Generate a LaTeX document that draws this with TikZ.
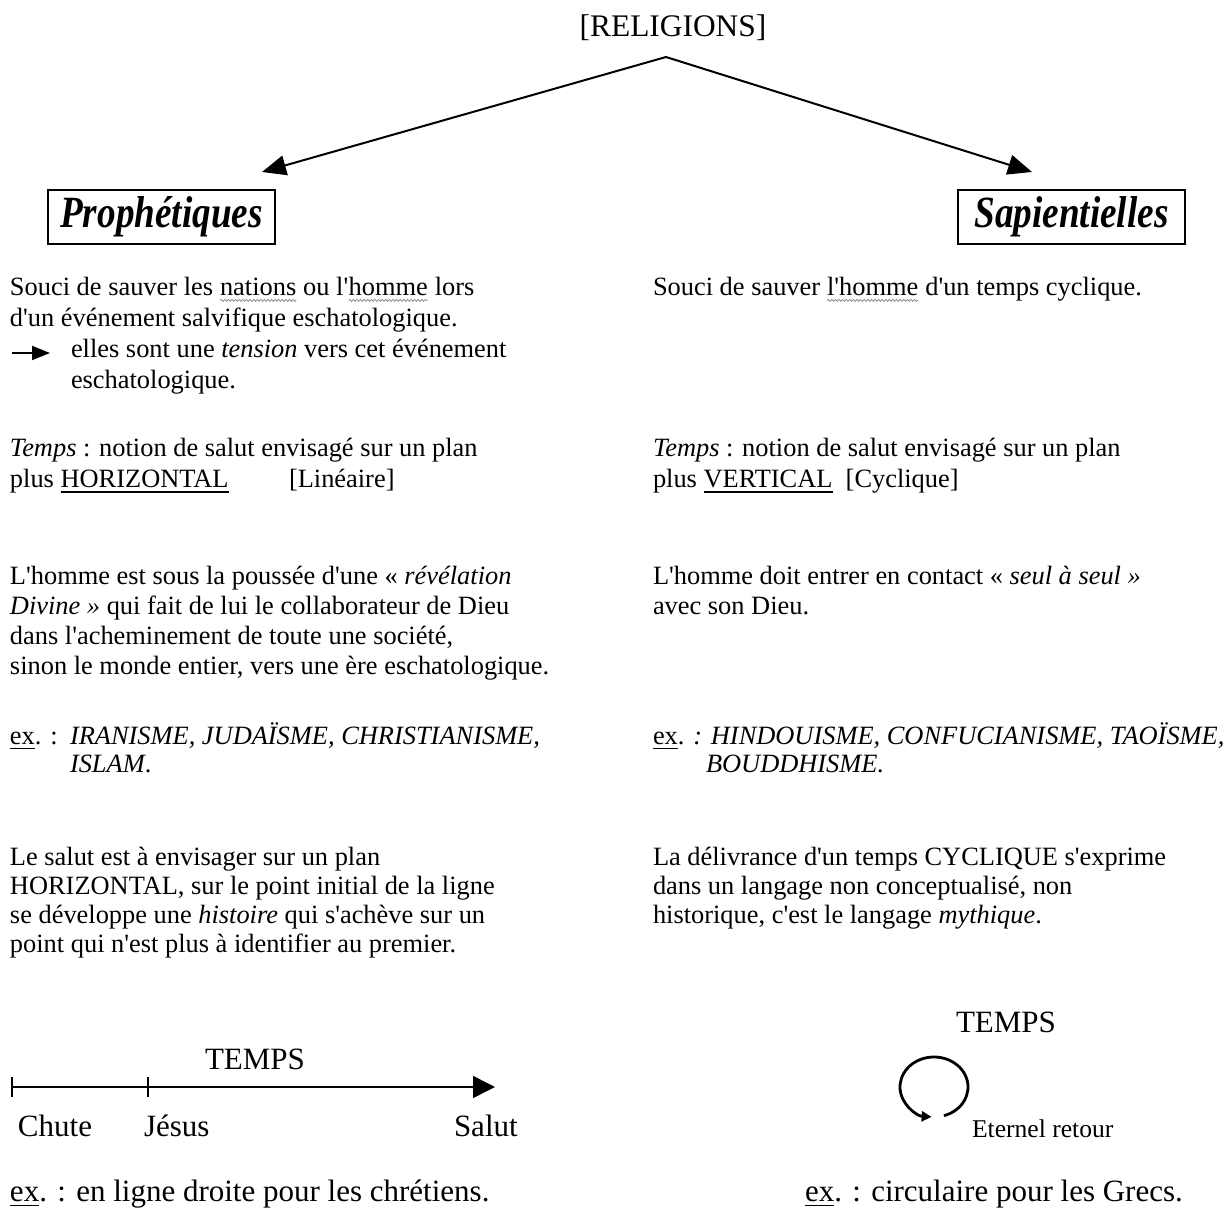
\documentclass[tikz,border=0pt]{standalone}
\usepackage{fontspec}
\setmainfont{Liberation Serif}[Ligatures=TeXOff]
\usetikzlibrary{arrows.meta,decorations.pathmorphing}
\newsavebox\ulbox
\newcommand\solidul[1]{\sbox\ulbox{#1}\rlap{\rule[-2.6pt]{\wd\ulbox}{1.1pt}}\usebox\ulbox}
\newcommand\exul[1]{\sbox\ulbox{#1}\rlap{\rule[-2.3pt]{\wd\ulbox}{0.6pt}}\usebox\ulbox}
\newcommand\wavyul[1]{\tikz[baseline=(wv.base),x=1pt,y=1pt]{\node[inner sep=0pt,outer sep=0pt,anchor=base](wv){#1};\draw[black!50,line width=0.35pt,decorate,decoration={snake,amplitude=0.5pt,segment length=1.8pt}]([yshift=-2.4pt]wv.base west)--([yshift=-2.4pt]wv.base east);}}
\tikzset{
  txt/.style={anchor=mid west,inner sep=0pt,outer sep=0pt,font=\fontsize{13.2}{15}\selectfont},
  big/.style={inner sep=0pt,outer sep=0pt,font=\fontsize{15.5}{17}\selectfont},
  catbox/.style={draw,line width=1pt,minimum width=113.5pt,minimum height=27pt,inner sep=0pt,font=\fontsize{18.6}{20}\bfseries\itshape\selectfont},
  arr/.style={line width=1pt,-{Triangle[length=12pt,width=10pt]}},
}
\begin{document}
\begin{tikzpicture}[x={(0.5pt,0)},y={(0,-0.5pt)}]
\useasboundingbox (0,0) rectangle (1228,1215);
% top
\node[inner sep=0pt,font=\fontsize{15.7}{17}\selectfont] (rel) at (673,28) {[RELIGIONS]};
\coordinate (apex) at (666,57);
\coordinate (lt) at (262,172);
\coordinate (rt) at (1032,172);
\draw[arr] (apex) -- (lt);
\draw[arr] (apex) -- (rt);
\node[catbox] (proph) at (161.5,217) {\scalebox{1}[1.2]{Prophétiques}};
\node[catbox] (sapi) at (1071.5,217) {\scalebox{1}[1.2]{Sapientielles}};
% left column
\node[txt] (l1) at (10,291) {Souci de sauver les \wavyul{nations} ou l'\wavyul{homme} lors};
\node[txt] (l2) at (10,322) {d'un événement salvifique eschatologique.};
\coordinate (a0) at (12,353);
\coordinate (a1) at (50,353);
\draw[line width=1pt,-{Triangle[length=9pt,width=7pt]}] (a0) -- (a1);
\node[txt] (l3) at (71,353) {elles sont une \textit{tension} vers cet événement};
\node[txt] (l4) at (71,384) {eschatologique.};
\node[txt] (t1) at (10,452) {\textit{Temps} : notion de salut envisagé sur un plan};
\node[txt] (t2) at (10,483) {plus \solidul{HORIZONTAL}};
\node[txt] (t2b) at (289,483) {[Linéaire]};
\node[txt] (h1) at (10,580) {L'homme est sous la poussée d'une « \textit{révélation}};
\node[txt] (h2) at (10,610) {\textit{Divine »} qui fait de lui le collaborateur de Dieu};
\node[txt] (h3) at (10,640) {dans l'acheminement de toute une société,};
\node[txt] (h4) at (10,670) {sinon le monde entier, vers une ère eschatologique.};
\node[txt] (e1) at (10,740) {\exul{ex}. :};
\node[txt] (e1b) at (70,740) {\textit{IRANISME, JUDAÏSME, CHRISTIANISME,}};
\node[txt] (e2) at (70,768) {\textit{ISLAM}.};
\node[txt] (s1) at (10,861) {Le salut est à envisager sur un plan};
\node[txt] (s2) at (10,890) {HORIZONTAL, sur le point initial de la ligne};
\node[txt] (s3) at (10,919) {se développe une \textit{histoire} qui s'achève sur un};
\node[txt] (s4) at (10,948) {point qui n'est plus à identifier au premier.};
% timeline
\node[big] (tempsL) at (255,1059) {TEMPS};
\coordinate (t0) at (12,1087);
\coordinate (tj) at (148,1087);
\coordinate (tend) at (495,1087);
\draw[line width=0.8pt,-{Triangle[length=11pt,width=11pt]}] (t0) -- (tend);
\draw[line width=0.8pt] ([yshift=5pt]t0) -- ([yshift=-5pt]t0);
\draw[line width=0.8pt] ([yshift=5pt]tj) -- ([yshift=-5pt]tj);
\node[big,anchor=mid west] (chute) at (18,1132) {Chute};
\node[big,anchor=mid west] (jesus) at (144,1132) {Jésus};
\node[big,anchor=mid west] (salut) at (454,1132) {Salut};
\node[big,anchor=mid west] (exL) at (10,1197) {\exul{ex}. : en ligne droite pour les chrétiens.};
% right column
\node[txt] (r1) at (653,291) {Souci de sauver \wavyul{l'homme} d'un temps cyclique.};
\node[txt] (rt1) at (653,452) {\textit{Temps} : notion de salut envisagé sur un plan};
\node[txt] (rt2) at (653,483) {plus \solidul{VERTICAL}\ \ [Cyclique]};
\node[txt] (rh1) at (653,580) {L'homme doit entrer en contact « \textit{seul à seul »}};
\node[txt] (rh2) at (653,610) {avec son Dieu.};
\node[txt] (re1) at (653,740) {\exul{ex}. \textit{: HINDOUISME, CONFUCIANISME, TAOÏSME,}};
\node[txt] (re2) at (706,768) {\textit{BOUDDHISME.}};
\node[txt] (rs1) at (653,861) {La délivrance d'un temps CYCLIQUE s'exprime};
\node[txt] (rs2) at (653,890) {dans un langage non conceptualisé, non};
\node[txt] (rs3) at (653,919) {historique, c'est le langage \textit{mythique}.};
% cycle
\node[big] (tempsR) at (1006,1022) {TEMPS};
\coordinate (cc) at (934,1087);
\draw[line width=1.4pt,-{Triangle[length=5pt,width=5pt]}] (cc) ++(73:34 and 30) arc[start angle=73,end angle=-266,x radius=34,y radius=30];
\node[txt,font=\fontsize{12.8}{14}\selectfont] (eternel) at (972,1133) {Eternel retour};
\node[big,anchor=mid west] (exR) at (805,1197) {\exul{ex}. : circulaire pour les Grecs.};
\end{tikzpicture}
\end{document}
